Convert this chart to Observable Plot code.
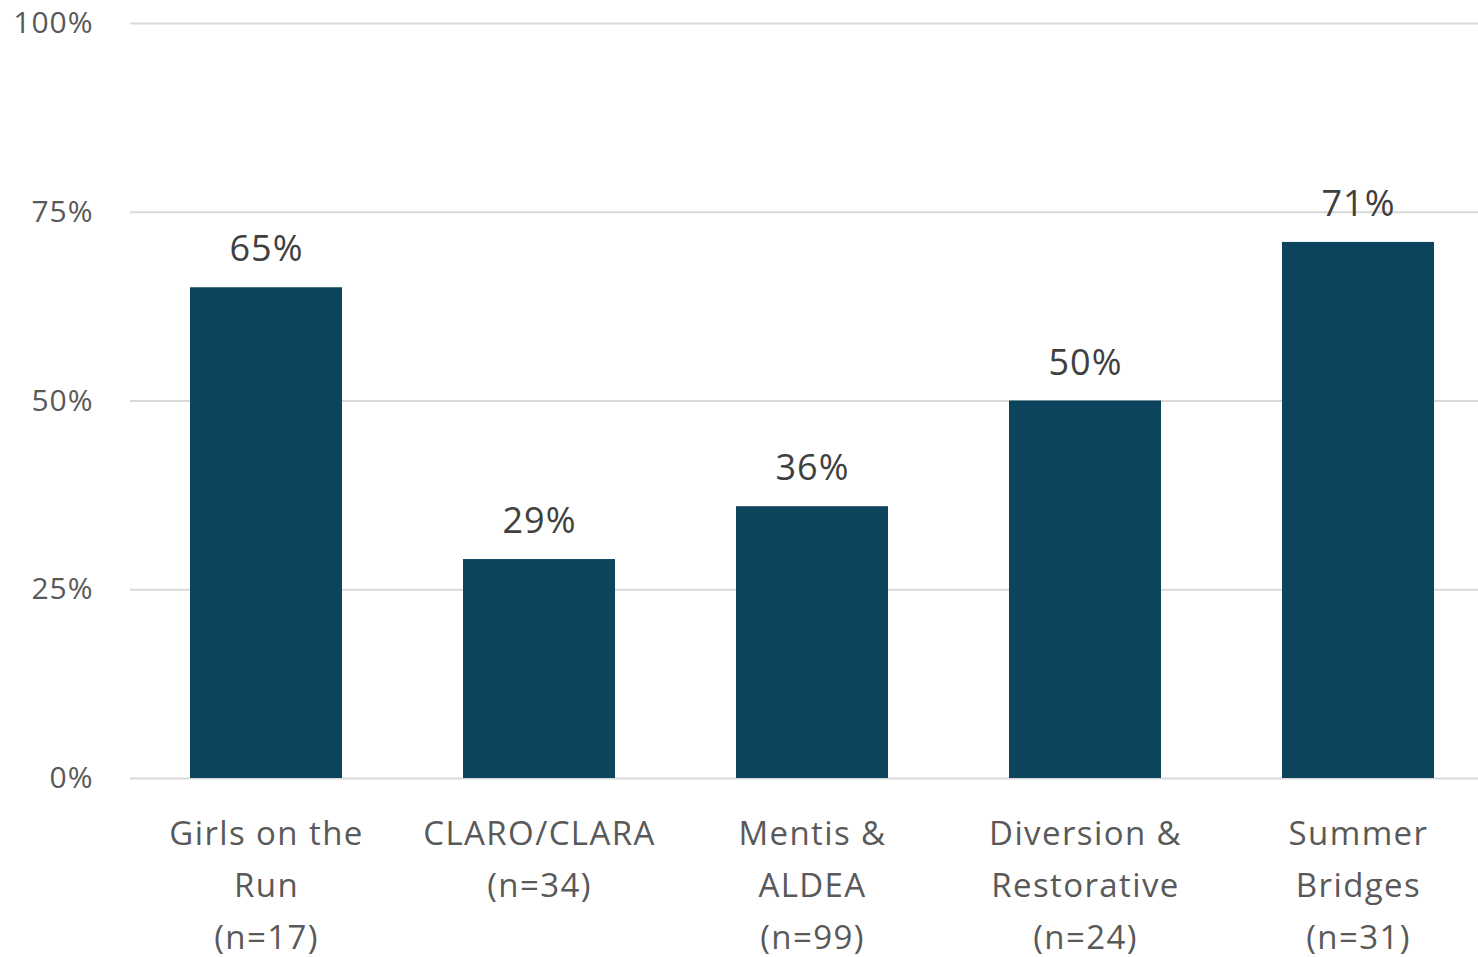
<!DOCTYPE html>
<html>
<head>
<meta charset="utf-8">
<script src="https://cdn.jsdelivr.net/npm/d3@7"></script>
<script src="https://cdn.jsdelivr.net/npm/@observablehq/plot@0.6"></script>
<style>
  html, body { margin: 0; padding: 0; background: #fff; }
  #chart svg { display: block; }
  #chart g[aria-label="x-axis tick label"] text { letter-spacing: 1.4px; }
  #chart g[aria-label="y-axis tick label"] text { letter-spacing: 1px; }
  #chart g[aria-label="text"] text { letter-spacing: 1px; }
</style>
</head>
<body>
<div id="chart"></div>
<script>
const categories = ["Girls on the\nRun\n(n=17)", "CLARO/CLARA\n(n=34)", "Mentis &\nALDEA\n(n=99)", "Diversion &\nRestorative\n(n=24)", "Summer\nBridges\n(n=31)"];
const values = [65, 29, 36, 50, 71];
const yTicks = [0, 25, 50, 75, 100];

const data = categories.map((c, i) => ({category: c, value: values[i]}));

const chart = Plot.plot({
  width: 1478,
  height: 957,
  marginLeft: 130,
  marginRight: 0,
  marginTop: 23,
  marginBottom: 179,
  style: {fontFamily: "'Open Sans', sans-serif", background: "#fff"},
  x: {domain: categories, range: [130, 1495], paddingInner: 0.443, paddingOuter: 0.2215},
  y: {domain: [0, 100]},
  marks: [
    Plot.ruleY(yTicks, {stroke: "#d9d9d9", strokeWidth: 2}),
    Plot.barY(data, {x: "category", y: "value", fill: "#0d445d"}),
    Plot.text(data, {x: "category", y: "value", text: d => d.value + "%", dy: -38, fontSize: 36, fill: "#404040"}),
    Plot.axisY({ticks: yTicks, tickFormat: d => d + "%", tickSize: 0, tickPadding: 37, fontSize: 30, color: "#595959", label: null}),
    Plot.axisX({tickSize: 0, tickPadding: 29, fontSize: 33, lineHeight: 1.58, color: "#595959", label: null})
  ]
});
document.getElementById("chart").appendChild(chart);
</script>
</body>
</html>
